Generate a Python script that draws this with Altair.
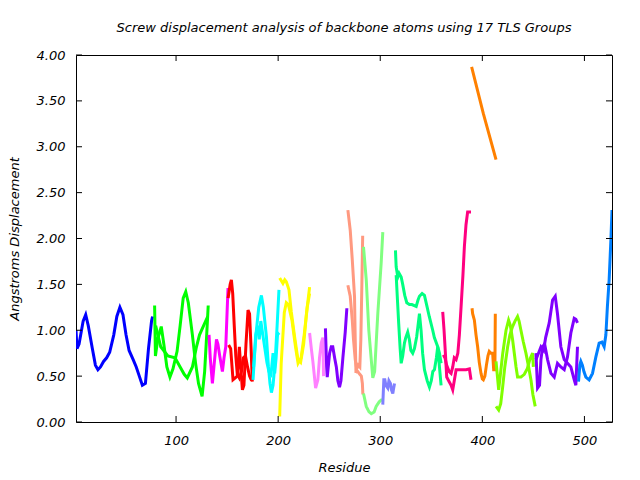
import altair as alt
import pandas as pd

# ---------------- data (residue, displacement) ----------------
x_ticks = [100, 200, 300, 400, 500]
y_ticks = [0.0, 0.5, 1.0, 1.5, 2.0, 2.5, 3.0, 3.5, 4.0]

g01_a = [(2, 1.00), (3, 0.80), (5, 0.85), (9, 1.10), (11.5, 1.17), (14, 1.05), (18, 0.80), (21, 0.62),
         (23.5, 0.57), (26, 0.60), (29, 0.66), (32, 0.70), (35, 0.76), (39, 0.95), (42, 1.15), (45, 1.25),
         (48, 1.17), (51, 0.95), (54, 0.78), (58, 0.68), (61, 0.60), (64, 0.50), (67, 0.40), (70, 0.42),
         (73, 0.80), (76, 1.10), (77, 1.15)]
g02_a = [(79, 1.27), (79.8, 0.72), (82, 0.90), (85.5, 1.04), (88, 0.85), (91, 0.60), (94, 0.49), (97, 0.58),
         (101, 0.77), (104, 1.05), (107, 1.35), (109.5, 1.42), (112, 1.30), (116, 0.95), (119, 0.65),
         (122, 0.42), (125.5, 0.28), (128, 0.55), (130, 0.95), (131.5, 1.27)]
g02_b = [(80, 1.05), (85, 0.82), (92, 0.72), (99, 0.70), (104, 0.60), (108, 0.52), (111, 0.48), (116, 0.60),
         (120, 0.82), (123, 0.95), (127, 1.05), (131, 1.15)]
g03_a = [(132.3, 0.95), (133.5, 0.70), (135.6, 0.42), (137.5, 0.65), (139.6, 0.90), (141, 0.85), (142.8, 0.72),
         (145.4, 0.55), (147, 0.70), (148.7, 0.82), (150, 1.20), (150.9, 1.46)]
g04_a = [(151, 1.35), (153, 1.50), (154.2, 1.55), (155.5, 1.40), (157, 1.05), (158.5, 0.72), (160, 0.52),
         (162, 0.48), (164, 0.55), (166, 0.70), (168, 0.72), (170, 0.60), (172, 0.50), (174, 0.45)]
g04_b = [(151.5, 0.84), (153.5, 0.80), (155.8, 0.46), (158, 0.48), (160, 0.50), (162, 0.82), (164, 0.50),
         (165, 0.35), (166.5, 0.40), (168.5, 0.85), (170.5, 1.22), (172, 1.18), (173.5, 0.80), (174.7, 0.44)]
g05_a = [(175.4, 0.46), (177, 0.75), (178.7, 1.00), (181, 1.25), (183.6, 1.38), (185.5, 1.25), (188.5, 0.93),
         (190.5, 0.60), (192, 0.42), (193.4, 0.32), (195, 0.40), (197, 0.65), (199, 1.05), (200.8, 1.44)]
g05_b = [(176, 0.60), (178, 0.95), (180, 1.05), (181.5, 0.90), (183, 1.10), (185, 0.95), (187, 0.80),
         (189, 0.65), (191, 0.55), (193, 0.52), (195, 0.75), (196.6, 0.53), (198, 0.70), (199.5, 0.97),
         (201, 0.95)]
g06_a = [(201.5, 1.57), (204.7, 1.51), (206.5, 1.55), (208, 1.53), (210.6, 1.44), (212.9, 1.20), (216.1, 0.93),
         (219.4, 0.68), (222, 0.65), (225, 0.85), (227.9, 1.20), (230.8, 1.47)]
g06_b = [(201.5, 0.06), (203, 0.64), (206, 1.19), (208, 1.30), (210, 1.28), (213.5, 1.11), (217, 0.82),
         (219.5, 0.64), (222.5, 0.70), (225.5, 0.95), (228.5, 1.25), (230.8, 1.40)]
g07_a = [(230.8, 0.97), (232.5, 0.80), (234, 0.66), (236.7, 0.37), (238.9, 0.46), (240.5, 0.70), (242.2, 0.86),
         (243.8, 0.92), (244.5, 0.50)]
g08_a = [(246.3, 1.02), (247.5, 0.60), (248.1, 0.49), (250.4, 0.75), (252, 0.82), (253.5, 0.82), (255.3, 0.70),
         (257, 0.60), (258.5, 0.45), (260.1, 0.38), (261.5, 0.45), (263.4, 0.70), (265.7, 0.98), (267.3, 1.24)]
g09_a = [(268.3, 2.31), (270.6, 2.09), (272.6, 1.77), (274.8, 1.37), (275.5, 0.90), (276.2, 0.55), (278, 0.55),
         (280, 0.52), (281.5, 0.50), (282.5, 0.42), (283, 0.30)]
g09_b = [(268.3, 1.49), (270.6, 1.37), (272.6, 1.11), (273.8, 0.90), (275.5, 0.68), (277, 0.58), (278.5, 0.62),
         (280, 0.60), (281, 0.90), (282, 1.50), (282.8, 2.03)]
g10_a = [(283.6, 1.91), (286.3, 1.55), (288.8, 1.00), (291.2, 0.68), (292.7, 0.48), (294.5, 0.55),
         (297.6, 1.18), (300.9, 1.73), (302.5, 2.07)]
g10_b = [(283.6, 0.31), (286.3, 0.17), (289, 0.11), (291.2, 0.09), (294, 0.11), (296, 0.17), (299, 0.22),
         (301, 0.24), (302.5, 0.24)]
g11_a = [(302.5, 0.19), (303.5, 0.46), (304.5, 0.46), (305.5, 0.40), (307.4, 0.37), (308.5, 0.45), (310, 0.42),
         (311, 0.35), (312.3, 0.31), (313, 0.36), (314, 0.42)]
g12_a = [(314.9, 1.87), (315.6, 1.69), (317.2, 1.58), (318.5, 1.62), (320.5, 1.58), (322, 1.50), (324, 1.38),
         (326, 1.30), (328.6, 1.28), (331, 1.28), (335.2, 1.26), (337, 1.33), (338.4, 1.37), (341, 1.40),
         (343.3, 1.38), (346, 1.25), (348, 1.15), (351.4, 1.00), (353, 0.92), (356.3, 0.82), (358, 0.75),
         (359.6, 0.64)]
g12_b = [(315.6, 1.60), (317, 1.30), (318.1, 1.07), (319.5, 0.80), (320.5, 0.64), (322, 0.72), (323.7, 0.86),
         (325, 0.92), (326.9, 0.98), (328.5, 0.90), (330, 0.78), (331.8, 0.75), (333.5, 0.80), (335.7, 0.93),
         (338.4, 1.18), (340, 1.00), (341.5, 0.75), (343.3, 0.57), (346, 0.45), (348.2, 0.38), (350, 0.45),
         (351.5, 0.55), (353.1, 0.57), (355, 0.70), (356.3, 0.82), (358, 0.60), (359.6, 0.40)]
g13_a = [(361.2, 1.20), (362.5, 1.00), (363.8, 0.75), (365.1, 0.49), (367, 0.45), (369.4, 0.40), (371, 0.35),
         (372.5, 0.45), (374.3, 0.57), (377.5, 0.57), (381, 0.57), (384.1, 0.57), (387.3, 0.58), (388.9, 0.46)]
g13_b = [(361.2, 0.71), (363, 0.72), (365, 0.62), (367.5, 0.55), (369.4, 0.53), (371, 0.60), (372.5, 0.70),
         (374.3, 0.68), (376, 0.75), (377.5, 0.95), (379.2, 1.26), (381, 1.60), (382.4, 1.91), (384, 2.15),
         (385.6, 2.29), (388.9, 2.29)]
g14_a = [(389.5, 3.87), (401, 3.36), (413.4, 2.86)]
g14_b = [(389.9, 1.24), (390.5, 1.18), (392.2, 1.11), (393.8, 0.95), (395.4, 0.82), (397, 0.65), (398.7, 0.53),
         (400, 0.47), (401, 0.46), (402.5, 0.50), (404, 0.62), (405.5, 0.72), (406.8, 0.77), (408.5, 0.75),
         (410.1, 0.75), (411.1, 0.57), (412.3, 0.57), (412.7, 1.18)]
g15_a = [(413.4, 0.66), (416, 0.35), (418, 0.55), (420, 0.75), (423.2, 1.00), (425.7, 1.11), (427.5, 1.05),
         (429.6, 0.90), (431.3, 0.75), (433, 0.60), (434.5, 0.49), (437.8, 0.49), (441.1, 0.52), (444, 0.58),
         (446.5, 0.68), (449.2, 0.75), (450, 0.60)]
g15_b = [(413.4, 0.17), (416, 0.13), (418, 0.20), (419.9, 0.38), (422, 0.60), (424.8, 0.82), (427, 0.95),
         (429.6, 1.04), (432, 1.10), (434.5, 1.15), (436, 1.10), (437.8, 1.00), (440, 0.88), (442.7, 0.75),
         (445, 0.62), (447.6, 0.46), (449.5, 0.30), (451.8, 0.17)]
g16_a = [(452.5, 0.75), (454.1, 0.37), (456, 0.40), (457.4, 0.68), (459, 0.82), (461, 0.85), (463.9, 0.68),
         (467.2, 0.53), (470.4, 0.49), (473.6, 0.64), (476.9, 0.60), (480.2, 0.57), (483.4, 0.71),
         (486.7, 0.97), (490, 1.13), (491.6, 1.12), (493.2, 1.08)]
g16_b = [(452.5, 0.68), (455, 0.75), (457.4, 0.82), (460, 0.78), (462, 0.92), (465.5, 1.08), (468.8, 1.33),
         (471.4, 1.37), (473.6, 1.18), (476.9, 0.82), (480.2, 0.68), (483.4, 0.64), (486.7, 0.60), (490, 0.46),
         (491.6, 0.40), (493.2, 0.82)]
g17_a = [(494.2, 0.44), (495.5, 0.62), (496.5, 0.66), (498, 0.62), (499.5, 0.55), (501.4, 0.49), (504.6, 0.46),
         (507.9, 0.53), (511.2, 0.71), (514.4, 0.86), (517.1, 0.87), (519.3, 0.82), (521, 0.95), (522.5, 1.26),
         (524.2, 1.55), (525.9, 1.98), (527, 2.31)]

series = [
    ("g01a", "#0000FF", g01_a), ("g02a", "#00FF00", g02_a), ("g02b", "#00FF00", g02_b),
    ("g03a", "#FF00FF", g03_a), ("g04a", "#FF0000", g04_a), ("g04b", "#FF0000", g04_b),
    ("g05a", "#00FFFF", g05_a), ("g05b", "#00FFFF", g05_b), ("g06a", "#FFFF00", g06_a),
    ("g06b", "#FFFF00", g06_b), ("g07a", "#FF80FF", g07_a), ("g08a", "#8000FF", g08_a),
    ("g09a", "#FF9980", g09_a), ("g09b", "#FF9980", g09_b), ("g10a", "#80FF80", g10_a),
    ("g10b", "#80FF80", g10_b), ("g11a", "#8080FF", g11_a), ("g12a", "#00FF80", g12_a),
    ("g12b", "#00FF80", g12_b), ("g13a", "#FF0080", g13_a), ("g13b", "#FF0080", g13_b),
    ("g14a", "#FF8000", g14_a), ("g14b", "#FF8000", g14_b), ("g15a", "#80FF00", g15_a),
    ("g15b", "#80FF00", g15_b), ("g16a", "#8000FF", g16_a), ("g16b", "#8000FF", g16_b),
    ("g17a", "#0080FF", g17_a),
]

rows = []
for name, color, pts in series:
    for i, (r, v) in enumerate(pts):
        rows.append({"series": name, "i": i, "residue": r, "disp": v})
df = pd.DataFrame(rows)

W, H = 536, 367
FONT = "DejaVu Sans"
TXT = dict(labelFont=FONT, labelFontSize=13, labelFontStyle="italic", labelColor="black",
           titleFont=FONT, titleFontSize=13, titleFontStyle="italic", titleFontWeight="normal",
           titleColor="black")

xs = alt.Scale(domain=[2, 527], nice=False, zero=False)
ys = alt.Scale(domain=[0, 4], nice=False, zero=False)
x_axis = alt.Axis(values=x_ticks, title="Residue", ticks=False, domain=False, grid=False,
                  labelPadding=12, titlePadding=14, **TXT)
y_axis = alt.Axis(values=y_ticks, format=".2f", title="Angstroms Displacement", ticks=False,
                  domain=False, grid=False, labelPadding=11, titlePadding=15, **TXT)

lines = alt.Chart(df).mark_line(strokeWidth=3, clip=True, strokeJoin="miter").encode(
    x=alt.X("residue:Q", scale=xs, axis=x_axis),
    y=alt.Y("disp:Q", scale=ys, axis=y_axis),
    color=alt.Color("series:N", scale=alt.Scale(domain=[s[0] for s in series], range=[s[1] for s in series]),
                    legend=None),
    detail="series:N",
    order="i:Q",
)

xt = pd.DataFrame({"residue": x_ticks})
yt = pd.DataFrame({"disp": y_ticks})

xb = alt.Chart(xt).mark_rule(color="black", strokeWidth=1).encode(
    x=alt.X("residue:Q", scale=xs, axis=x_axis), y=alt.value(H), y2=alt.value(H - 6))
xtop = alt.Chart(xt).mark_rule(color="black", strokeWidth=1).encode(
    x=alt.X("residue:Q", scale=xs, axis=x_axis), y=alt.value(0), y2=alt.value(6))
yl = alt.Chart(yt).mark_rule(color="black", strokeWidth=1).encode(
    y=alt.Y("disp:Q", scale=ys, axis=y_axis), x=alt.value(0), x2=alt.value(6))
yr = alt.Chart(yt).mark_rule(color="black", strokeWidth=1).encode(
    y=alt.Y("disp:Q", scale=ys, axis=y_axis), x=alt.value(W), x2=alt.value(W - 6))

chart = alt.layer(lines, xb, xtop, yl, yr).properties(
    width=W, height=H,
    background="white",
    title=alt.TitleParams("Screw displacement analysis of backbone atoms using 17 TLS Groups",
                          font=FONT, fontSize=13, fontStyle="italic", fontWeight="normal",
                          color="black", anchor="middle", offset=14),
    autosize=alt.AutoSizeParams(type="none"),
    padding={"left": 76, "top": 55, "right": 28, "bottom": 58},
).configure_view(stroke="black", strokeWidth=1)

chart.save("out.html", embed_options={"renderer": "svg", "actions": False})
